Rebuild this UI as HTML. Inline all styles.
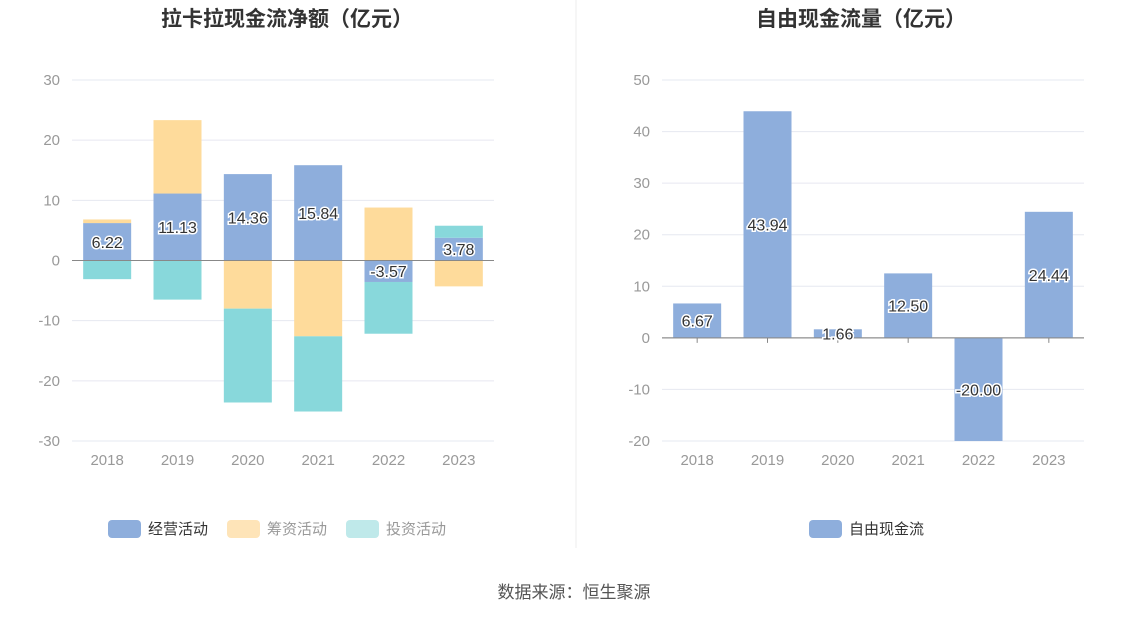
<!DOCTYPE html>
<html><head><meta charset="utf-8"><style>
body{margin:0;background:#fff;font-family:"Liberation Sans","Noto Sans CJK SC",sans-serif}
svg text{font-family:"Liberation Sans","Noto Sans CJK SC",sans-serif}
</style></head><body>
<svg width="1148" height="619">
<rect width="1148" height="619" fill="#fff"/>
<line x1="576" y1="0" x2="576" y2="548" stroke="#eee"/>
<text x="287" y="26" text-anchor="middle" font-size="21" font-weight="bold" fill="#333">拉卡拉现金流净额（亿元）</text>
<text x="861" y="26" text-anchor="middle" font-size="21" font-weight="bold" fill="#333">自由现金流量（亿元）</text>
<g id="left"></g><g id="right"></g>
<g>
<rect x="108" y="520" width="33" height="18" rx="4" fill="#8eaedc"/>
<text x="148" y="534" font-size="15" fill="#333">经营活动</text>
<rect x="227" y="520" width="33" height="18" rx="4" fill="#fee4b8"/>
<text x="267" y="534" font-size="15" fill="#999">筹资活动</text>
<rect x="346" y="520" width="33" height="18" rx="4" fill="#bfe9ea"/>
<text x="386" y="534" font-size="15" fill="#999">投资活动</text>
</g>
<g>
<rect x="809" y="520" width="33" height="18" rx="4" fill="#8eaedc"/>
<text x="849" y="534" font-size="15" fill="#333">自由现金流</text>
</g>
<text x="574" y="598" text-anchor="middle" font-size="17" fill="#555">数据来源：恒生聚源</text>
</svg>
<script>
const years=["2018","2019","2020","2021","2022","2023"];
const operating=[6.22,11.13,14.36,15.84,-3.57,3.78];
const financing=[0.6,12.2,-8.0,-12.6,8.8,-4.3];
const investing=[-3.1,-6.5,-15.6,-12.5,-8.6,2.0];
const leftTicks=[30,20,10,0,-10,-20,-30];
const fcf=[6.67,43.94,1.66,12.50,-20.00,24.44];
const rightTicks=[50,40,30,20,10,0,-10,-20];
const NS="http://www.w3.org/2000/svg";
function mk(p,t,a){const e=document.createElementNS(NS,t);for(const k in a)e.setAttribute(k,a[k]);p.appendChild(e);return e;}
function axis(g,x0,x1,ytop,ybot,max,min,ticks){
 const y=v=>ytop+(max-v)/(max-min)*(ybot-ytop);
 ticks.forEach(t=>{
  const l=mk(g,'line',{x1:x0,x2:x1,y1:y(t),y2:y(t),stroke:t===0?'#888':'#e6e8f0'});
  
  
  const tx=mk(g,'text',{x:x0-12,y:y(t)+5,'text-anchor':'end','font-size':15,fill:'#999'});tx.textContent=t;
  
  
 });
 const bw=(x1-x0)/years.length;
 const x=i=>x0+bw*(i+0.5);
 years.forEach((yr,i)=>{
  const tk=mk(g,'line',{x1:x(i),x2:x(i),y1:y(0),y2:y(0)+5,stroke:'#888'});
  
  
  const tx=mk(g,'text',{x:x(i),y:ybot+24,'text-anchor':'middle','font-size':15,fill:'#999'});tx.textContent=yr;
  
  
 });
 return {y,x};
}
function label(g,xx,yy,v){
 const t=mk(g,'text',{x:xx,y:yy+6,'text-anchor':'middle','font-size':16,fill:'#333',stroke:'#fff','stroke-width':3,'paint-order':'stroke'});
 t.textContent=v.toFixed(2);
 
 
}
const L=document.getElementById('left');
const la=axis(L,72,494,80,441,30,-30,leftTicks);
const series=[[operating,'#8eaedc','bar-operating'],[financing,'#fedb9b','bar-financing'],[investing,'#88d8db','bar-investing']];
years.forEach((yr,i)=>{
 let pos=0,neg=0;
 series.forEach(([arr,c,n])=>{
  const v=arr[i];let a,b;
  if(v>=0){a=pos;b=pos+v;pos=b;}else{a=neg;b=neg+v;neg=b;}
  const r=mk(L,'rect',{x:la.x(i)-24,width:48,y:Math.min(la.y(a),la.y(b)),height:Math.abs(la.y(a)-la.y(b)),fill:c});
  
  
 });
});
mk(L,'line',{x1:72,x2:494,y1:la.y(0),y2:la.y(0),stroke:'#888'});
years.forEach((yr,i)=>label(L,la.x(i),la.y(operating[i]/2),operating[i]));
const R=document.getElementById('right');
const ra=axis(R,662,1084,80,441,50,-20,rightTicks);
fcf.forEach((v,i)=>{
 const r=mk(R,'rect',{x:ra.x(i)-24,width:48,y:Math.min(ra.y(0),ra.y(v)),height:Math.abs(ra.y(v)-ra.y(0)),fill:'#8eaedc'});
 
 
});
mk(R,'line',{x1:662,x2:1084,y1:ra.y(0),y2:ra.y(0),stroke:'#888'});
fcf.forEach((v,i)=>label(R,ra.x(i),ra.y(v/2),v));
</script>
</body></html>
